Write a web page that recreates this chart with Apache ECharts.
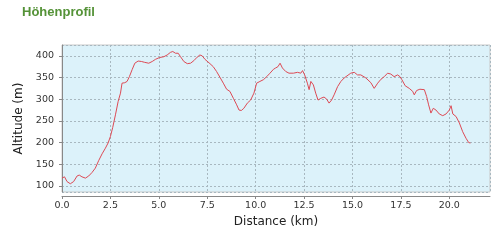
<!DOCTYPE html>
<html><head><meta charset="utf-8">
<script src="https://cdn.jsdelivr.net/npm/echarts@6/dist/echarts.min.js"></script>
<style>html,body{margin:0;padding:0;background:#fff}#c{width:503px;height:244px}</style>
</head><body><div id="c"></div>
<script>
const distanceKm = [0.0,0.13,0.26,0.43,0.60,0.78,0.89,1.03,1.21,1.38,1.55,1.72,1.89,2.07,2.24,2.38,2.50,2.62,2.76,2.90,3.02,3.10,3.24,3.36,3.48,3.62,3.76,3.93,4.10,4.27,4.48,4.66,4.83,5.03,5.26,5.43,5.60,5.72,5.86,6.00,6.12,6.29,6.47,6.64,6.81,6.98,7.12,7.24,7.38,7.64,7.81,7.98,8.15,8.33,8.50,8.67,8.85,9.02,9.14,9.26,9.39,9.57,9.74,9.91,10.05,10.22,10.40,10.57,10.74,10.92,11.03,11.15,11.26,11.38,11.55,11.72,11.95,12.16,12.33,12.42,12.53,12.67,12.76,12.85,12.98,13.10,13.22,13.36,13.53,13.67,13.79,13.92,14.05,14.23,14.40,14.57,14.66,14.91,15.09,15.26,15.43,15.69,15.95,16.12,16.30,16.47,16.64,16.81,16.98,17.15,17.33,17.45,17.55,17.72,17.93,18.11,18.19,18.31,18.48,18.71,18.83,18.93,19.05,19.17,19.31,19.48,19.66,19.83,20.00,20.09,20.18,20.35,20.52,20.69,20.86,21.00,21.09];
const altitudeM = [118,121,110,105,110,123,125,121,118,123,131,141,158,174,187,199,214,235,264,295,314,337,338,341,352,368,383,388,387,385,383,387,392,396,398,402,408,410,406,406,398,387,382,383,389,397,402,400,392,382,375,364,351,337,323,318,302,287,275,274,279,291,298,314,337,341,345,352,360,369,372,375,383,372,364,360,360,362,360,366,356,337,322,341,333,314,298,302,305,300,291,298,310,329,341,349,352,360,362,356,356,349,338,325,337,346,352,360,358,352,356,352,345,331,325,318,310,320,323,322,306,287,268,279,275,266,262,266,275,285,266,260,245,225,210,200,199];
const chartTitle = "Höhenprofil";
const xName = "Distance (km)";
const yName = "Altitude (m)";

const chart = echarts.init(document.getElementById('c'), null, {renderer: 'canvas'});
const data = distanceKm.map((d, i) => [d, altitudeM[i]]);
const font = 'DejaVu Sans';
chart.setOption({
  animation: false,
  title: {
    text: chartTitle, left: 22, top: 6, padding: 0,
    textStyle: {fontFamily: 'Liberation Sans', fontWeight: 'bold', fontSize: 13, color: '#549237'}
  },
  grid: {
    left: 62, right: 13, top: 45, bottom: 52,
    show: true, backgroundColor: '#dcf2fa', borderColor: '#c8c8c8', borderWidth: 1
  },
  xAxis: {
    type: 'value', min: 0, max: 22.1, interval: 2.5, offset: 4,
    name: xName, nameLocation: 'middle', nameGap: 18,
    nameTextStyle: {fontFamily: font, fontSize: 12, color: '#222', verticalAlign: 'top'},
    axisLine: {show: true, lineStyle: {color: '#888', width: 1}},
    axisTick: {show: true, length: 3, lineStyle: {color: '#888'}},
    axisLabel: {fontFamily: font, fontSize: 9.5, color: '#333', margin: 5, showMaxLabel: false,
      formatter: v => v.toFixed(1)},
    splitLine: {show: true, lineStyle: {color: '#a8b8c0', type: [2, 2], width: 1}}
  },
  yAxis: {
    type: 'value', min: 86, max: 425, minInterval: 50, maxInterval: 50, offset: 2,
    name: yName, nameLocation: 'middle', nameGap: 31,
    nameTextStyle: {fontFamily: font, fontSize: 12, color: '#222'},
    axisLine: {show: true, lineStyle: {color: '#888', width: 1}},
    axisTick: {show: true, length: 3, lineStyle: {color: '#888'}},
    axisLabel: {fontFamily: font, fontSize: 9.5, color: '#333', margin: 6,
      showMinLabel: false, showMaxLabel: false,
      formatter: v => (v % 50 === 0 ? String(v) : '')},
    splitLine: {show: true, lineStyle: {color: '#a8b8c0', type: [2, 2], width: 1}}
  },
  series: [{
    type: 'line', data: data, showSymbol: false, smooth: false,
    lineStyle: {color: '#dd4a55', width: 1}
  }]
});
</script></body></html>
